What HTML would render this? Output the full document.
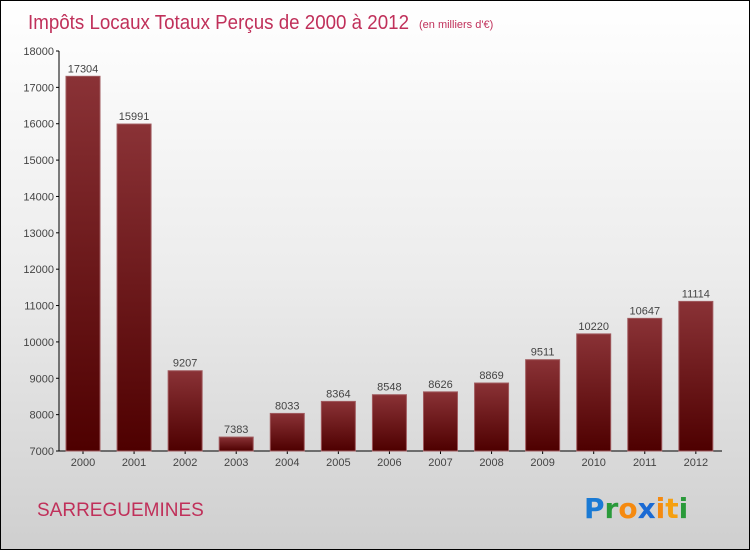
<!DOCTYPE html>
<html><head><meta charset="utf-8"><style>
body{margin:0}
#wrap{position:relative;width:750px;height:550px;box-sizing:border-box;border:1px solid #000;background:linear-gradient(#ffffff 0%,#ececec 50%,#cfcfcf 100%);font-family:"Liberation Sans",sans-serif;overflow:hidden}
</style></head><body>
<div id="wrap">
<svg id="chart" width="750" height="550" style="position:absolute;left:0;top:0">
<defs><linearGradient id="bg" x1="0" y1="0" x2="0" y2="1"><stop offset="0" stop-color="#8a3236"/><stop offset="1" stop-color="#4e0000"/></linearGradient></defs>
<text x="27" y="28" font-size="20" fill="#c0305a" textLength="381" lengthAdjust="spacingAndGlyphs">Impôts Locaux Totaux Perçus de 2000 à 2012</text>
<text x="418" y="27" font-size="11" fill="#c0305a">(en milliers d'€)</text>
<text x="36" y="515" font-size="19" fill="#c0305a">SARREGUEMINES</text>
<g font-size="28" font-weight="bold" font-family="'DejaVu Sans',sans-serif">
<text x="583" y="517" fill="#1a7ad4">P<tspan fill="#2a9a3a">r</tspan><tspan fill="#f58a10">o</tspan><tspan fill="#1a6ad4">x</tspan><tspan fill="#f58a10">i</tspan><tspan fill="#f5a010">t</tspan><tspan fill="#2a9a3a">i</tspan></text>
</g>
<g id="axes"></g><g id="bars"></g>
</svg>
</div>
<script>
const years=["2000","2001","2002","2003","2004","2005","2006","2007","2008","2009","2010","2011","2012"];
const values=[17304,15991,9207,7383,8033,8364,8548,8626,8869,9511,10220,10647,11114];
const ticks=[7000,8000,9000,10000,11000,12000,13000,14000,15000,16000,17000,18000];
const NS="http://www.w3.org/2000/svg";
const yMin=7000,yMax=18000,yTop=50,yBot=450;
function yS(v){return yBot-(v-yMin)/(yMax-yMin)*(yBot-yTop);}
function xS(i){return 82+i*51.07;}
const ax=document.getElementById('axes'),bg=document.getElementById('bars');
function mk(t,a,p){const e=document.createElementNS(NS,t);for(const k in a)e.setAttribute(k,a[k]);p.appendChild(e);return e;}
const yl=mk('line',{x1:58,y1:yTop,x2:58,y2:yBot,stroke:'#000'},ax);


const xl=mk('line',{x1:58,y1:yBot,x2:721,y2:yBot,stroke:'#000'},ax);


ticks.forEach(t=>{const y=yS(t);
mk('line',{x1:55,y1:y,x2:58,y2:y,stroke:'#000'},ax);
const tx=mk('text',{x:53,y:y+4,'text-anchor':'end','font-size':11,fill:'#444'},ax);tx.textContent=t;

});
years.forEach((yr,i)=>{const c=xS(i),y=yS(values[i]);
const r=mk('rect',{x:c-17,y:y,width:34,height:yBot-y,fill:'url(#bg)',stroke:'#a05a5e','stroke-width':1},bg);


const v=mk('text',{x:c,y:y-4,'text-anchor':'middle','font-size':11,fill:'#444'},bg);v.textContent=values[i];


mk('line',{x1:c,y1:yBot,x2:c,y2:yBot+3,stroke:'#000'},ax);
const l=mk('text',{x:c,y:yBot+15,'text-anchor':'middle','font-size':11,fill:'#444'},ax);l.textContent=yr;

});
</script>
</body></html>
